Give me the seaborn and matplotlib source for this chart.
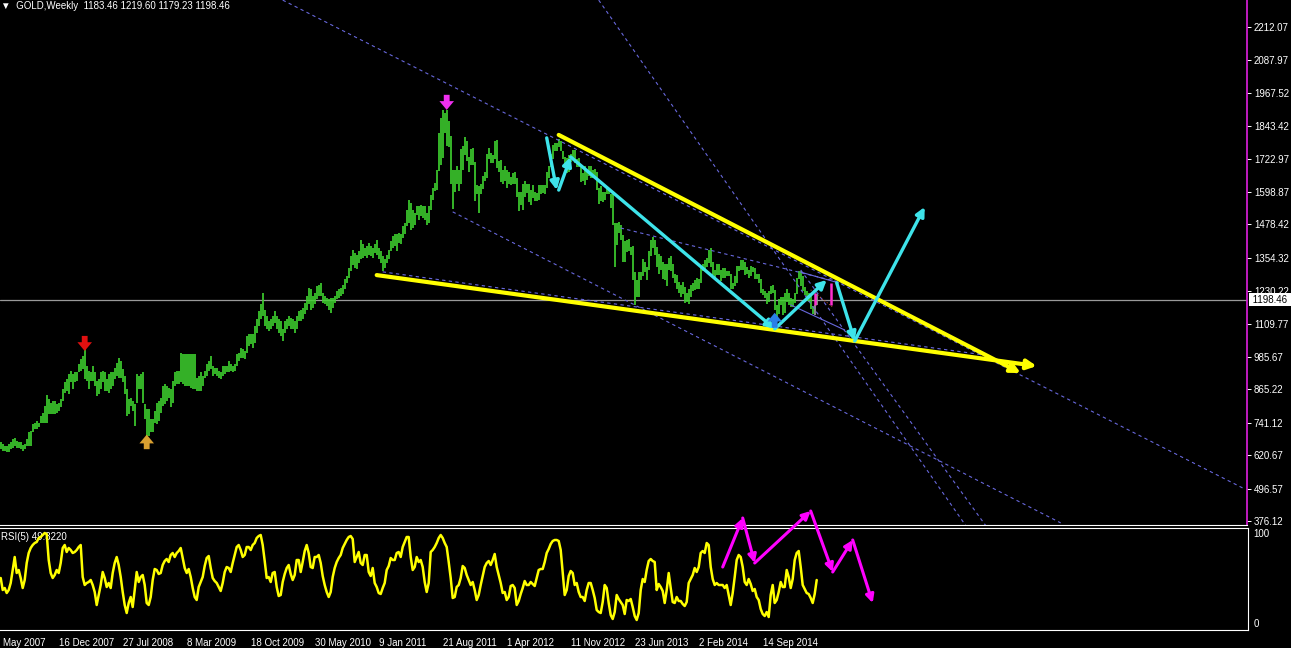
import numpy as np
import pandas as pd
import matplotlib
matplotlib.use('Agg')
import matplotlib.pyplot as plt
import matplotlib.transforms as mtransforms
import seaborn as sns

# Weekly GOLD bars, bar 0 = 27 May 2007 ... bar 408 = 22 Mar 2015
bar_high = [670, 662, 656, 656, 662, 668, 680, 683, 674, 670, 668, 658, 662, 680, 705, 711, 736, 742, 748, 742,
            767, 779, 804, 844, 829, 816, 822, 822, 810, 816, 829, 866, 893, 903, 921, 934, 921, 928, 928, 958,
            977, 989, 1026, 952, 934, 928, 952, 928, 897, 903, 928, 934, 928, 903, 921, 928, 928, 946, 965, 983,
            971, 940, 915, 866, 829, 835, 822, 810, 921, 915, 921, 928, 810, 791, 791, 755, 755, 785, 816, 822,
            835, 878, 884, 878, 872, 866, 897, 928, 934, 934, 1002, 996, 996, 996, 996, 996, 996, 996, 909, 915,
            928, 915, 934, 958, 971, 989, 952, 946, 946, 934, 928, 952, 952, 952, 971, 958, 952, 958, 996, 1002,
            1020, 1014, 1008, 1064, 1070, 1070, 1070, 1101, 1125, 1156, 1181, 1224, 1162, 1138, 1119, 1125, 1138, 1156, 1138, 1125,
            1119, 1088, 1119, 1125, 1138, 1131, 1125, 1119, 1138, 1156, 1162, 1169, 1187, 1212, 1243, 1237, 1212, 1224, 1249, 1255,
            1261, 1224, 1212, 1206, 1200, 1206, 1206, 1212, 1230, 1237, 1243, 1255, 1274, 1286, 1317, 1360, 1385, 1373, 1366, 1379,
            1422, 1404, 1391, 1397, 1410, 1397, 1391, 1404, 1422, 1391, 1379, 1360, 1348, 1366, 1385, 1416, 1434, 1441, 1441, 1447,
            1441, 1472, 1484, 1533, 1570, 1558, 1533, 1521, 1546, 1546, 1552, 1548, 1546, 1521, 1546, 1589, 1614, 1632, 1682, 1818,
            1873, 1904, 1892, 1904,
            1862, 1808, 1680, 1680, 1695, 1680, 1760, 1770, 1803, 1790, 1730, 1760, 1762, 1710, 1625, 1620, 1630, 1660, 1675, 1740,
            1764, 1745, 1735, 1790, 1792, 1715, 1718, 1680, 1695, 1680, 1675, 1655, 1670, 1675, 1650, 1600, 1600, 1630, 1640, 1630,
            1630, 1605, 1625, 1600, 1595, 1625, 1625, 1625, 1625, 1675, 1695, 1740, 1775, 1780, 1780, 1796, 1790, 1750, 1730, 1725,
            1735, 1740, 1755, 1755, 1720, 1725, 1700, 1670, 1695, 1680, 1695, 1695, 1680, 1685, 1675, 1615, 1620, 1600, 1600, 1615,
            1615, 1590, 1590, 1485, 1485, 1487, 1475, 1440, 1415, 1420, 1425, 1395, 1397, 1300, 1270, 1300, 1300, 1348, 1340, 1320,
            1380, 1420, 1433, 1420, 1395, 1370, 1360, 1340, 1330, 1330, 1355, 1362, 1330, 1295, 1290, 1265, 1255, 1265, 1245, 1225,
            1240, 1255, 1260, 1270, 1280, 1275, 1320, 1332, 1345, 1355, 1385, 1392, 1340, 1310, 1330, 1332, 1310, 1315, 1315, 1305,
            1305, 1295, 1262, 1285, 1325, 1325, 1345, 1345, 1340, 1320, 1310, 1322, 1320, 1315, 1295, 1295, 1275, 1240, 1230, 1225,
            1230, 1250, 1255, 1235, 1180, 1200, 1210, 1210, 1225, 1240, 1225, 1205, 1200, 1225, 1280, 1307, 1305, 1285, 1245, 1230,
            1225, 1220, 1175, 1180, 1219.60]
bar_low = [643, 637, 637, 633, 633, 643, 649, 656, 649, 649, 643, 637, 643, 656, 656, 656, 705, 717, 717, 724,
           742, 742, 742, 742, 773, 773, 773, 773, 779, 785, 798, 822, 853, 860, 847, 891, 866, 891, 897, 928,
           934, 940, 903, 897, 866, 897, 897, 878, 841, 847, 866, 891, 860, 860, 853, 866, 878, 903, 915, 909,
           909, 891, 847, 767, 773, 804, 785, 730, 816, 866, 866, 816, 755, 693, 693, 705, 705, 742, 736, 748,
           779, 804, 810, 822, 835, 798, 816, 878, 884, 884, 891, 884, 878, 878, 878, 872, 866, 866, 860, 860,
           860, 878, 909, 915, 934, 940, 915, 921, 915, 909, 903, 915, 921, 928, 928, 934, 928, 934, 952, 971,
           983, 983, 977, 1002, 1026, 1033, 1020, 1039, 1076, 1101, 1125, 1138, 1101, 1088, 1082, 1088, 1101, 1113, 1088, 1076,
           1064, 1045, 1076, 1088, 1101, 1088, 1088, 1076, 1088, 1119, 1119, 1125, 1144, 1162, 1181, 1162, 1169, 1181, 1200, 1212,
           1212, 1187, 1181, 1175, 1162, 1150, 1169, 1187, 1200, 1206, 1212, 1218, 1237, 1261, 1280, 1305, 1329, 1317, 1311, 1336,
           1348, 1354, 1360, 1354, 1366, 1360, 1354, 1373, 1366, 1348, 1336, 1305, 1317, 1336, 1348, 1379, 1391, 1397, 1379, 1410,
           1404, 1428, 1441, 1472, 1484, 1459, 1465, 1478, 1515, 1496, 1509, 1502, 1496, 1478, 1484, 1533, 1570, 1601, 1608, 1676,
           1700, 1725, 1818, 1768,
           1766, 1627, 1535, 1600, 1630, 1604, 1630, 1680, 1738, 1713, 1675, 1700, 1700, 1565, 1590, 1522, 1590, 1610, 1640, 1650,
           1720, 1705, 1705, 1720, 1688, 1675, 1635, 1627, 1640, 1612, 1630, 1625, 1630, 1630, 1580, 1527, 1550, 1532, 1580, 1595,
           1563, 1550, 1575, 1565, 1565, 1570, 1590, 1595, 1590, 1615, 1650, 1690, 1720, 1750, 1750, 1765, 1750, 1720, 1700, 1670,
           1672, 1710, 1725, 1705, 1690, 1690, 1635, 1640, 1625, 1645, 1660, 1650, 1650, 1655, 1605, 1555, 1565, 1563, 1570, 1590,
           1590, 1540, 1475, 1321, 1400, 1445, 1420, 1338, 1340, 1375, 1380, 1366, 1270, 1180, 1207, 1210, 1270, 1285, 1300, 1270,
           1310, 1360, 1390, 1365, 1320, 1293, 1310, 1277, 1270, 1250, 1310, 1305, 1280, 1262, 1240, 1225, 1210, 1220, 1185, 1190,
           1182, 1210, 1230, 1235, 1238, 1240, 1260, 1305, 1310, 1320, 1335, 1320, 1290, 1277, 1290, 1290, 1268, 1280, 1280, 1285,
           1285, 1240, 1240, 1250, 1260, 1305, 1310, 1310, 1290, 1295, 1280, 1285, 1300, 1275, 1275, 1260, 1225, 1215, 1205, 1183,
           1190, 1220, 1225, 1160, 1131, 1145, 1180, 1142, 1150, 1190, 1180, 1170, 1170, 1185, 1220, 1275, 1250, 1230, 1215, 1195,
           1190, 1165, 1147, 1142, 1179.23]
rsi5 = [51, 39, 41, 36, 39, 46, 59, 72, 56, 59, 51, 41, 49, 66, 76, 81, 84, 86, 87, 91,
        92, 94, 96, 95, 69, 56, 51, 54, 59, 56, 66, 81, 84, 77, 81, 79, 76, 77, 79, 82,
        84, 52, 44, 46, 47, 49, 44, 37, 24, 34, 44, 57, 51, 42, 46, 41, 56, 66, 72, 64,
        52, 37, 24, 16, 26, 32, 22, 39, 57, 47, 52, 54, 44, 26, 24, 32, 49, 60, 59, 55,
        56, 64, 68, 70, 67, 74, 76, 72, 76, 78, 81, 71, 61, 56, 60, 52, 41, 32, 29, 42,
        47, 52, 63, 71, 73, 61, 51, 48, 46, 42, 38, 46, 57, 62, 61, 57, 66, 74, 82, 84,
        79, 72, 74, 82, 82, 79, 84, 86, 91, 93, 94, 84, 68, 51, 52, 47, 56, 57, 42, 33,
        34, 47, 55, 61, 64, 55, 49, 54, 69, 69, 57, 67, 78, 84, 76, 62, 61, 72, 72, 74,
        66, 53, 44, 37, 32, 37, 52, 61, 67, 71, 74, 81, 85, 89, 92, 93, 90, 67, 72, 77,
        66, 64, 74, 74, 57, 53, 61, 46, 42, 36, 35, 41, 46, 59, 63, 71, 69, 69, 76, 77,
        72, 82, 87, 92, 92, 72, 59, 62, 72, 67, 69, 62, 47, 37, 46, 77, 79, 82, 86, 91,
        94, 91, 86, 82, 67, 51, 31, 32, 42, 44, 51, 63, 61, 54, 49, 44, 47, 39, 29, 34,
        44, 53, 62, 66, 68, 64, 69, 75, 62, 54, 46, 36, 37, 29, 32, 43, 44, 41, 24, 28,
        35, 41, 48, 44, 44, 47, 45, 43, 51, 59, 60, 60, 67, 76, 80, 85, 88, 89, 89, 88,
        79, 56, 34, 39, 53, 58, 56, 44, 46, 37, 32, 32, 28, 39, 46, 46, 39, 31, 19, 17,
        16, 27, 44, 41, 26, 14, 10, 17, 34, 30, 27, 24, 15, 29, 28, 30, 22, 13, 9, 16,
        39, 50, 47, 59, 68, 70, 68, 67, 39, 45, 42, 38, 26, 39, 56, 41, 27, 26, 32, 28,
        28, 25, 23, 27, 46, 50, 54, 61, 57, 62, 76, 78, 76, 86, 84, 62, 50, 44, 46, 44,
        44, 44, 41, 44, 34, 24, 36, 52, 69, 74, 72, 62, 47, 44, 50, 45, 38, 40, 32, 29,
        20, 15, 13, 17, 12, 34, 44, 26, 29, 37, 47, 42, 42, 59, 52, 41, 50, 69, 76, 78,
        62, 44, 40, 36, 35, 31, 26, 35, 49]

header = 'GOLD,Weekly  1183.46 1219.60 1179.23 1198.46'
last_close = 1198.46
rsi_label = 'RSI(5) 49.3220'

# the first date label is shown cut at the left edge in the original, only "May 2007" is visible
date_labels = ['May 2007', '16 Dec 2007', '27 Jul 2008', '8 Mar 2009', '18 Oct 2009', '30 May 2010',
               '9 Jan 2011', '21 Aug 2011', '1 Apr 2012', '11 Nov 2012', '23 Jun 2013', '2 Feb 2014',
               '14 Sep 2014']
date_bars = [-3, 29, 61, 93, 125, 157, 189, 221, 253, 285, 317, 349, 381]

price_ticks = [2212.07, 2087.97, 1967.52, 1843.42, 1722.97, 1598.87, 1478.42, 1354.32,
               1230.22, 1109.77, 985.67, 865.22, 741.12, 620.67, 496.57, 376.12]

# drawn objects, in (bar, price) units
dashed_lines = [((141, 2312), (622, 495)), ((226, 1525), (530, 369)), ((299, 2312), (483, 354)),
                ((400, 1309), (493, 354)), ((310, 1465), (425, 1253)), ((191, 1302), (492, 993))]
thin_lines = [((400, 1301), (419, 1261)), ((395, 1179), (422, 1086))]
yellow_arrows = [((279, 1811), (510, 926)), ((188, 1290), (518, 952))]
cyan_arrows = [((273, 1800), (278, 1606)), ((279, 1606), (285, 1729)), ((285, 1729), (387, 1090)),
               ((387, 1090), (413, 1272)), ((418, 1261), (427, 1045)), ((427, 1045), (462, 1543))]
# (bar, tail price, tip price, colour)
signal_arrows = [(42, 1064, 1008, '#E01010'), (73, 643, 697, '#D9A030'),
                 (223, 1960, 1904, '#F030F0'), (387, 1094, 1150, '#2A7FE8')]
pink_marks = [(407, 1179, 1224), (415, 1179, 1261)]
# RSI window arrows, in (bar, rsi) units
rsi_arrows = [((361, 62), (371, 111)), ((371, 111), (377, 66)), ((377, 66), (405, 118)),
              ((405, 118), (416, 57)), ((416, 57), (426, 89)), ((426, 89), (436, 26))]

sns.set_style('dark', {'axes.facecolor': 'black', 'figure.facecolor': 'black',
                       'axes.grid': False, 'axes.edgecolor': 'white'})
plt.rcParams['font.family'] = ['Liberation Sans', 'DejaVu Sans']
plt.rcParams['font.size'] = 7

fig = plt.figure(figsize=(12.91, 6.48), dpi=100)
ax = fig.add_axes([0, 123 / 648, 1247 / 1291, 525 / 648])
ax_rsi = fig.add_axes([0, 18 / 648, 1248 / 1291, 102 / 648])

bars = np.arange(len(bar_high))

##################
## Price window ##
##################
ax.axhline(last_close, color='#9A9A9A', lw=0.9, zorder=1)
bar_colors = ['#3FD42F'] * (len(bars) - 2) + ['#A0A0A0'] * 2
ax.vlines(bars, bar_low, bar_high, colors=bar_colors, lw=1.2, zorder=2)

for (x0, y0), (x1, y1) in dashed_lines:
    ax.plot([x0, x1], [y0, y1], color='#6868DC', lw=0.8, ls=(0, (3, 3)), zorder=3)
for (x0, y0), (x1, y1) in thin_lines:
    ax.plot([x0, x1], [y0, y1], color='#6868DC', lw=0.8, zorder=3)
ax.plot([405, 416], [1235, 1171], color='#D05030', lw=0.7, ls=(0, (1, 2)), zorder=3)

for bar, lo, hi in pink_marks:
    ax.vlines(bar, lo, hi, colors='#FF2FD0', lw=1.8, zorder=4)

for start, end in yellow_arrows:
    ax.annotate('', xy=end, xytext=start,
                arrowprops=dict(arrowstyle='-|>', color='#FFFF00', lw=3, mutation_scale=14,
                                shrinkA=0, shrinkB=0), zorder=5)
for start, end in cyan_arrows:
    ax.annotate('', xy=end, xytext=start,
                arrowprops=dict(arrowstyle='-|>', color='#3EE3EA', lw=2.4, mutation_scale=13,
                                shrinkA=0, shrinkB=0), zorder=6)
for bar, tail, tip, col in signal_arrows:
    ax.annotate('', xy=(bar, tip), xytext=(bar, tail),
                arrowprops=dict(arrowstyle='simple,head_length=0.45,head_width=0.75,tail_width=0.3',
                                color=col, lw=0, mutation_scale=14, shrinkA=0, shrinkB=0), zorder=6)

ax.set_xlim(-0.35, 623.15)
ax.set_ylim(361.2, 2312.4)
ax.set_xticks([])
ax.yaxis.tick_right()
ax.set_yticks(price_ticks)
ax.set_yticklabels([f'{v:.2f}' for v in price_ticks])
ax.tick_params(axis='y', colors='white', length=3, width=0.7, pad=2, labelsize=7)
for side in ['top', 'left']:
    ax.spines[side].set_visible(False)
ax.spines['bottom'].set_color('white')
ax.spines['bottom'].set_linewidth(0.8)
ax.spines['right'].set_color('#E020E0')
ax.spines['right'].set_linewidth(1.2)

price_tr = mtransforms.blended_transform_factory(ax.transAxes, ax.transData)
ax.text(1 + 3 / 1247, last_close, f' {last_close:.2f} ', transform=price_tr, color='black', size=7,
        va='center', ha='left', clip_on=False, zorder=10,
        bbox=dict(fc='white', ec='none', pad=1.0))

fig.text(1 / 1291, 1 - 6 / 648, '\u25bc  ' + header, color='white', va='center', size=7)

################
## RSI window ##
################
rsi_df = pd.DataFrame({'bar': bars, 'rsi': rsi5})
sns.lineplot(data=rsi_df, x='bar', y='rsi', ax=ax_rsi, color='#FFFF00', lw=1.8, zorder=3)
ax_rsi.text(1 / 1248, 0.91, rsi_label, transform=ax_rsi.transAxes, color='white', size=7,
            va='center', ha='left', zorder=2)

for start, end in rsi_arrows:
    ax_rsi.annotate('', xy=end, xytext=start, annotation_clip=False,
                    arrowprops=dict(arrowstyle='-|>', color='#FF00FF', lw=2.2, mutation_scale=12,
                                    shrinkA=0, shrinkB=0), zorder=6)

ax_rsi.set_xlim(-0.35, 623.65)
ax_rsi.set_ylim(-1, 101)
ax_rsi.set_xlabel('')
ax_rsi.set_ylabel('')
ax_rsi.spines['left'].set_visible(False)
for side in ['top', 'right', 'bottom']:
    ax_rsi.spines[side].set_color('white')
    ax_rsi.spines[side].set_linewidth(0.8)

ax_rsi.yaxis.tick_right()
ax_rsi.set_yticks([100, 0])
ax_rsi.set_yticklabels(['100', '0'])
ax_rsi.tick_params(axis='y', colors='white', length=0, pad=4, labelsize=7)
rsi_ticklabels = ax_rsi.get_yticklabels()
rsi_ticklabels[0].set_va('top')
rsi_ticklabels[1].set_va('bottom')

# the first date sits left of the window edge; its visible part starts at the left border
ax_rsi.annotate(date_labels[0], xy=(date_bars[0], 0), xycoords=('data', 'axes fraction'),
                xytext=(6, -5.5), textcoords='offset points', ha='left', va='top',
                color='white', size=7, annotation_clip=False)
ax_rsi.set_xticks(date_bars[1:])
ax_rsi.set_xticklabels(date_labels[1:], ha='left')
ax_rsi.tick_params(axis='x', colors='white', length=4, width=0.7, pad=1.5, labelsize=7)

fig.savefig('out.png', dpi=100, facecolor='black')
